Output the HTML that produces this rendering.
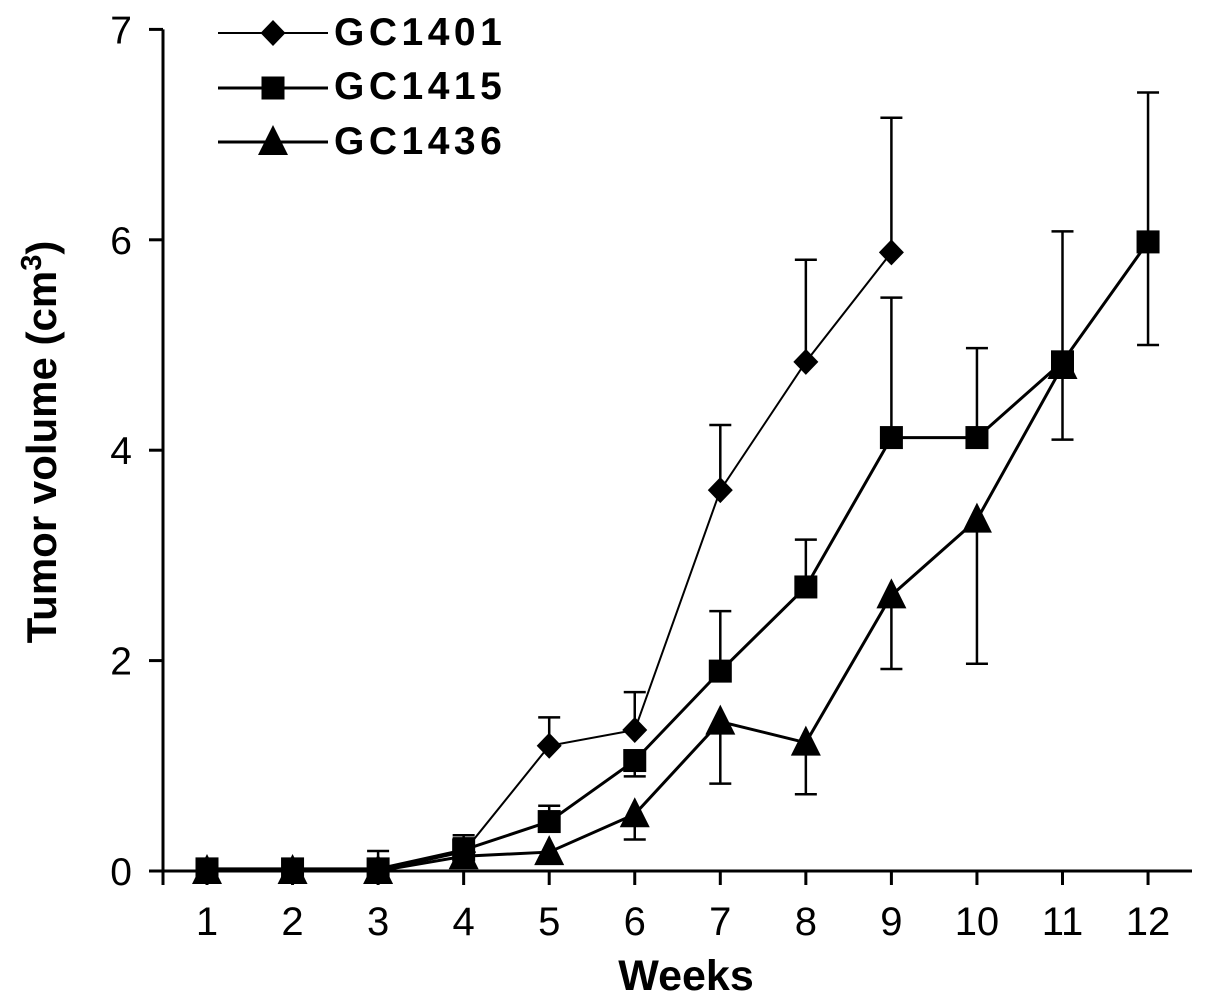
<!DOCTYPE html>
<html><head><meta charset="utf-8"><style>
body{margin:0;background:#fff}
svg{display:block;font-family:"Liberation Sans",Arial,sans-serif}
</style></head><body>
<svg id="chart" width="1205" height="1005" viewBox="0 0 1205 1005"></svg>
<script>
const weeks=[1,2,3,4,5,6,7,8,9,10,11,12];
const yTicks=[0,2,4,6,8];
const yTickLabels=["0","2","4","6","7"];
const gc1401=[0,0,0,0.18,1.19,1.34,3.62,4.84,5.88];
const gc1401Up=[0,0,0,0.31,1.46,1.7,4.24,5.81,7.16];
const gc1415=[0.02,0.02,0.02,0.2,0.47,1.05,1.9,2.7,4.12,4.12,4.84,5.98];
const gc1415Up=[null,null,0.19,0.34,0.62,null,2.47,3.15,5.45,4.97,6.08,7.4];
const gc1415Down=[null,null,null,null,null,0.9,null,null,null,null,null,5.0];
const gc1436=[0,0,0,0.14,0.18,0.54,1.42,1.22,2.62,3.34,4.8];
const gc1436Down=[null,null,null,null,null,0.3,0.83,0.73,1.92,1.97,4.1];

const NS="http://www.w3.org/2000/svg";
const svg=document.getElementById('chart');
const X0=163,X1=1192,Y0=871;
const xs=w=>207+(w-1)*85.55;
const ys=v=>Y0-v*105.2;
function mk(t,a,parent){const e=document.createElementNS(NS,t);for(const k in a)e.setAttribute(k,a[k]);(parent||svg).appendChild(e);return e;}

let e=mk('line',{x1:X0,y1:Y0,x2:X1,y2:Y0,stroke:'#000','stroke-width':3});


e=mk('line',{x1:X0,y1:Y0+14,x2:X0,y2:ys(8),stroke:'#000','stroke-width':3});


yTicks.forEach((t,i)=>{
 let l=mk('line',{x1:X0-14,y1:ys(t),x2:X0,y2:ys(t),stroke:'#000','stroke-width':3});
 
 
 let tx=mk('text',{x:X0-31,y:ys(t)+14,'font-size':39,'text-anchor':'end'});
 tx.textContent=yTickLabels[i];
 
 
});
weeks.forEach(w=>{
 let l=mk('line',{x1:xs(w),y1:Y0,x2:xs(w),y2:Y0+14,stroke:'#000','stroke-width':3});
 
 
 let tx=mk('text',{x:xs(w),y:935,'font-size':40,'text-anchor':'middle'});
 tx.textContent=w;
 
 
});
e=mk('text',{x:686,y:990,'font-size':43,'font-weight':'bold','text-anchor':'middle'});
e.textContent='Weeks';


e=mk('text',{x:0,y:0,'font-size':42,'font-weight':'bold','text-anchor':'middle',transform:'translate(56,442) rotate(-90)'});
e.innerHTML='Tumor volume (cm<tspan dy="-15" font-size="29">3</tspan><tspan dy="15">)</tspan>';



function errbar(x,v,end,name){
 if(end==null)return;
 const g=mk('g',{});
 
 
 mk('line',{x1:x,y1:ys(v),x2:x,y2:ys(end),stroke:'#000','stroke-width':2.5},g);
 mk('line',{x1:x-11,y1:ys(end),x2:x+11,y2:ys(end),stroke:'#000','stroke-width':2.5},g);
}
function marker(type,x,y,parent){
 if(type==='d')return mk('polygon',{points:`${x},${y-13} ${x+12.5},${y} ${x},${y+13} ${x-12.5},${y}`,fill:'#000'},parent);
 if(type==='s')return mk('rect',{x:x-11.5,y:y-11.5,width:23,height:23,fill:'#000'},parent);
 return mk('polygon',{points:`${x},${y-17} ${x+15},${y+13} ${x-15},${y+13}`,fill:'#000'},parent);
}
function series(vals,ups,downs,type,sw,name){
 vals.forEach((v,i)=>{errbar(xs(weeks[i]),v,ups&&ups[i],name+'-error-bar');errbar(xs(weeks[i]),v,downs&&downs[i],name+'-error-bar');});
 const p=mk('polyline',{points:vals.map((v,i)=>xs(weeks[i])+','+ys(v)).join(' '),fill:'none',stroke:'#000','stroke-width':sw});
 
 
 vals.forEach((v,i)=>{
  const m=marker(type,xs(weeks[i]),ys(v));
  
  
 });
}
series(gc1436,null,gc1436Down,'t',3,'gc1436');
series(gc1415,gc1415Up,gc1415Down,'s',3,'gc1415');
series(gc1401,gc1401Up,null,'d',2,'gc1401');

const leg=[['GC1401','d',33,45,2],['GC1415','s',88,99,3],['GC1436','t',142,154,3]];
leg.forEach(([n,t,y,by,sw])=>{
 const g=mk('g',{});
 
 
 mk('line',{x1:218,y1:y,x2:328,y2:y,stroke:'#000','stroke-width':sw},g);
 marker(t,273,y,g);
 const tx=mk('text',{x:334,y:by,'font-size':39,'font-weight':'bold','letter-spacing':'4.5'},g);
 tx.textContent=n;
});
</script>
</body></html>
